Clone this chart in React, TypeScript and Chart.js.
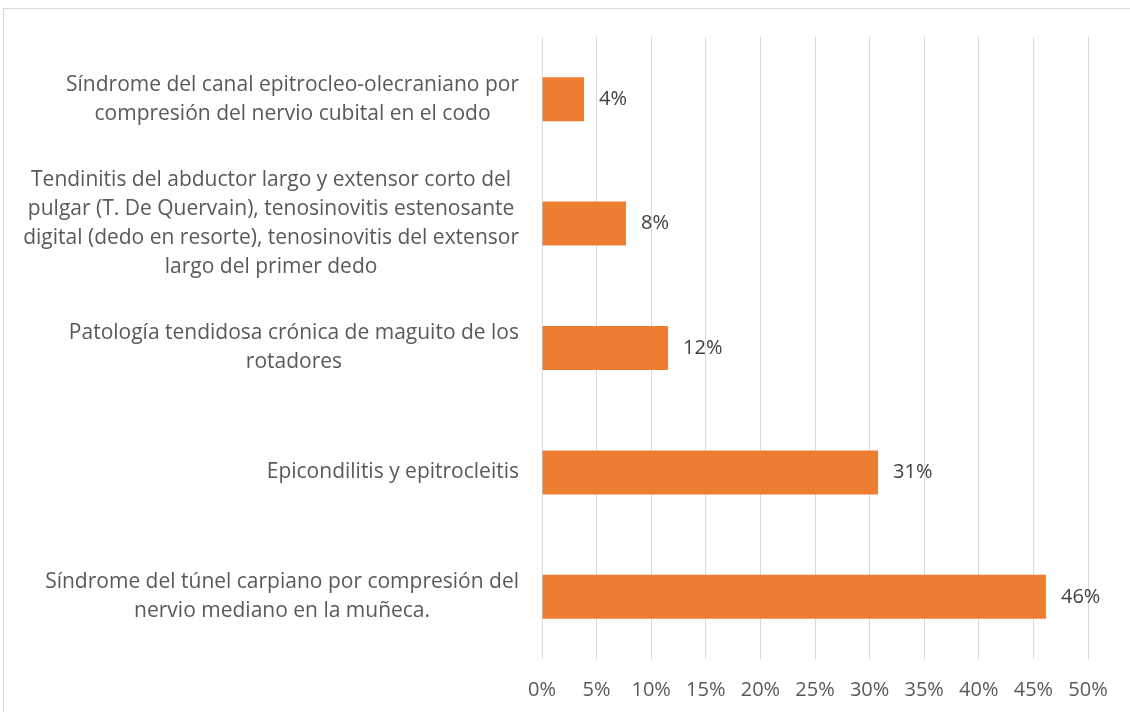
import React, { useEffect, useRef } from "react";
import { Chart, registerables } from "chart.js";

Chart.register(...registerables);

const categories: string[][] = [
  ["Síndrome del canal epitrocleo-olecraniano por", "compresión del nervio cubital en el codo"],
  [
    "Tendinitis del abductor largo y extensor corto del",
    "pulgar (T. De Quervain), tenosinovitis estenosante",
    "digital (dedo en resorte), tenosinovitis del extensor",
    "largo del primer dedo",
  ],
  ["Patología tendidosa crónica de maguito de los", "rotadores"],
  ["Epicondilitis y epitrocleitis"],
  ["Síndrome del túnel carpiano por compresión del", "nervio mediano en la muñeca."],
];
const values: number[] = [3.85, 7.69, 11.54, 30.77, 46.15];
const valueLabels: string[] = ["4%", "8%", "12%", "31%", "46%"];

const FONT = "'Open Sans', 'Noto Sans', sans-serif";

export default function App() {
  const ref = useRef<HTMLCanvasElement>(null);
  useEffect(() => {
    const canvas = ref.current!;
    const framePlugin = {
      id: "frame",
      beforeDraw(chart: any) {
        const ctx = chart.ctx;
        ctx.save();
        ctx.fillStyle = "#ffffff";
        ctx.fillRect(0, 0, chart.width, chart.height);
        ctx.strokeStyle = "#d9d9d9";
        ctx.lineWidth = 1;
        ctx.strokeRect(3.5, 8.5, 1300, 900);
        ctx.restore();
      },
    };
    const labelsPlugin = {
      id: "customLabels",
      afterDraw(chart: any) {
        const ctx = chart.ctx;
        const yScale = chart.scales.y;
        ctx.save();
        ctx.font = `21px ${FONT}`;
        ctx.fillStyle = "#595959";
        ctx.textBaseline = "middle";
        ctx.textAlign = "center";
        const right = chart.chartArea.left - 23;
        const lh = 29;
        categories.forEach((lines, i) => {
          const cy = yScale.getPixelForTick(i);
          const w = Math.max(...lines.map((l) => ctx.measureText(l).width));
          const cx = right - w / 2;
          const y0 = cy - ((lines.length - 1) * lh) / 2;
          lines.forEach((l, j) => ctx.fillText(l, cx, y0 + j * lh));
        });
        // data labels
        const meta = chart.getDatasetMeta(0);
        ctx.font = `20px ${FONT}`;
        ctx.fillStyle = "#404040";
        ctx.textAlign = "left";
        meta.data.forEach((bar: any, i: number) => {
          ctx.fillText(valueLabels[i], bar.x + 15, bar.y);
        });
        ctx.restore();
      },
    };
    const chart = new Chart(canvas, {
      type: "bar",
      data: {
        labels: categories.map((c) => c.join(" ")),
        datasets: [
          {
            data: values,
            backgroundColor: "#ED7D31",
            borderWidth: 0,
            barPercentage: 0.354,
            categoryPercentage: 1,
          },
        ],
      },
      options: {
        indexAxis: "y",
        animation: false,
        responsive: false,
        maintainAspectRatio: false,
        layout: { padding: { left: 0, right: 42, top: 37, bottom: 0 } },
        plugins: { legend: { display: false }, tooltip: { enabled: false } },
        scales: {
          x: {
            min: 0,
            max: 50,
            ticks: {
              stepSize: 5,
              padding: 19,
              color: "#595959",
              font: { family: FONT, size: 20 },
              callback: (v: any) => v + "%",
            },
            grid: { color: "#d9d9d9", lineWidth: 1, drawTicks: false },
            border: { display: false },
            afterFit(scale: any) {
              scale.height = 53;
            },
          },
          y: {
            ticks: { display: false },
            grid: { display: false, drawTicks: false },
            border: { display: false },
            afterFit(scale: any) {
              scale.width = 542;
            },
          },
        },
      },
      plugins: [framePlugin, labelsPlugin],
    });
    return () => chart.destroy();
  }, []);
  return (
    <div style={{ position: "fixed", left: 0, top: 0, width: 1130, height: 712 }}>
      <canvas ref={ref} width={1130} height={712} style={{ display: "block" }} />
    </div>
  );
}
